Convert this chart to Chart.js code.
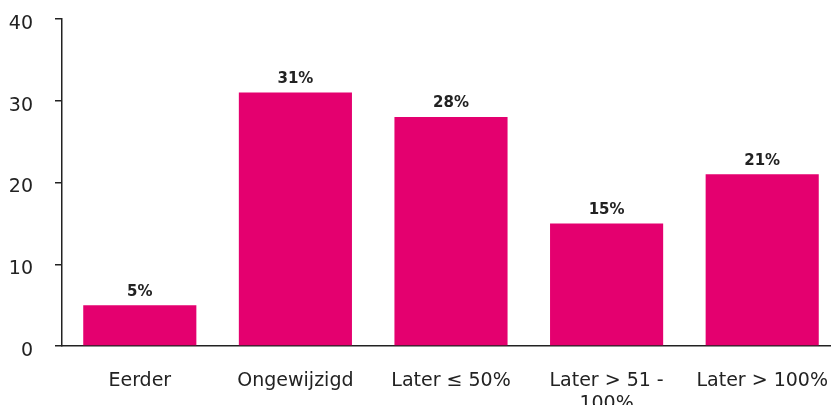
<!DOCTYPE html>
<html>
<head>
<meta charset="utf-8">
<script src="https://cdn.jsdelivr.net/npm/chart.js@4/dist/chart.umd.min.js"></script>
<style>
  html, body { margin: 0; padding: 0; background: #fff; overflow: hidden; }
  canvas { display: block; }
</style>
</head>
<body>
<canvas id="chart" width="840" height="416"></canvas>
<script>
// categorieën en waarden
var categories = ['Eerder', 'Ongewijzigd', 'Later ≤ 50%', ['Later > 51 -', '100%'], 'Later > 100%'];
var values = [5, 31, 28, 15, 21];
var yTicks = [0, 10, 20, 30, 40];

var barColor = '#E4006F';
var textColor = '#222222';

// labels boven de staven
var valueLabels = {
    id: 'valueLabels',
    afterDatasetsDraw: function (chart) {
        var ctx = chart.ctx;
        var meta = chart.getDatasetMeta(0);
        ctx.save();
        ctx.font = 'bold 15px "DejaVu Sans"';
        ctx.fillStyle = textColor;
        ctx.textAlign = 'center';
        ctx.textBaseline = 'bottom';
        meta.data.forEach(function (bar, i) {
            ctx.fillText(values[i] + '%', bar.x, bar.y - 6);
        });
        ctx.restore();
    }
};

var ctx = document.getElementById('chart').getContext('2d');
var chart = new Chart(ctx, {
    type: 'bar',
    data: {
        labels: categories,
        datasets: [{
            data: values,
            backgroundColor: barColor,
            borderWidth: 0,
            barPercentage: 0.727,
            categoryPercentage: 1
        }]
    },
    options: {
        responsive: false,
        animation: false,
        layout: { padding: { left: 0, top: 19, right: 0, bottom: 0 } },
        plugins: {
            legend: { display: false },
            tooltip: { enabled: false }
        },
        scales: {
            x: {
                grid: { display: false },
                border: { display: true, color: '#222', width: 1.5 },
                ticks: {
                    color: textColor,
                    font: { family: 'DejaVu Sans', size: 19 },
                    padding: 16,
                    maxRotation: 0,
                    autoSkip: false
                },
                afterFit: function (scale) {
                    scale.height = 70;
                    scale.paddingLeft = 0;
                    scale.paddingRight = 0;
                }
            },
            y: {
                min: 0,
                max: 40,
                afterBuildTicks: function (axis) {
                    axis.ticks = yTicks.map(function (v) { return { value: v }; });
                },
                grid: {
                    display: true,
                    drawOnChartArea: false,
                    drawTicks: true,
                    tickLength: 7,
                    color: '#222',
                    lineWidth: 1.5
                },
                border: { display: true, color: '#222', width: 1.5 },
                ticks: {
                    color: textColor,
                    font: { family: 'DejaVu Sans', size: 19 },
                    padding: 22,
                    labelOffset: 5
                },
                afterFit: function (scale) {
                    scale.width = 62;
                    scale.paddingTop = 0;
                    scale.paddingBottom = 0;
                }
            }
        }
    },
    plugins: [valueLabels]
});
</script>
</body>
</html>
